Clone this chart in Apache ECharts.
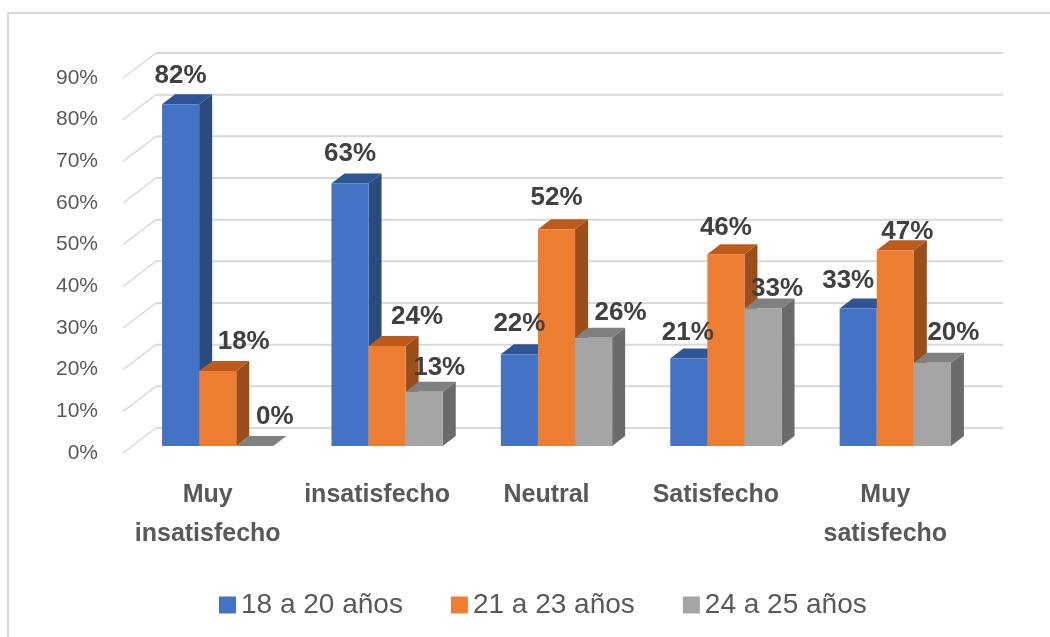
<!DOCTYPE html>
<html>
<head>
<meta charset="utf-8">
<script src="https://cdn.jsdelivr.net/npm/echarts@6/dist/echarts.min.js"></script>
<style>
html,body{margin:0;padding:0;background:#fff}
#main{width:1050px;height:637px}
</style>
</head>
<body>
<div id="main"></div>
<script>
// datos
var categorias = ['Muy\ninsatisfecho', 'insatisfecho', 'Neutral', 'Satisfecho', 'Muy\nsatisfecho'];
var nombres = ['18 a 20 años', '21 a 23 años', '24 a 25 años'];
var edad18a20 = [82, 63, 22, 21, 33];
var edad21a23 = [18, 24, 52, 46, 47];
var edad24a25 = [0, 13, 26, 33, 20];
var yTicks = [0, 10, 20, 30, 40, 50, 60, 70, 80, 90];

// colores de las caras (frente, tapa, lado)
var caras = [
    {front: '#4472C4', top: '#2F5597', side: '#2A4A80'},
    {front: '#ED7D31', top: '#BE5A1C', side: '#9A4E1C'},
    {front: '#A5A5A5', top: '#808080', side: '#6B6B6B'}
];
// pequeños ajustes de las etiquetas (como hace Excel)
var ajusteEtiquetas = [
    [[0, 0], [0, -1], [0, -2], [-1, 3], [-10, 1]],
    [[26, 0], [30, 0], [0, -3], [0, 2], [12, 11]],
    [[20, 0], [15, 5], [27, 4], [14, 9], [21, -1]]
];

var FONDO_X = 33, FONDO_Y = 25;   // profundidad de la pared del fondo
var BARRA_X = 10, BARRA_Y = 7;    // plano frontal de las barras
var PROF_X = 13, PROF_Y = 10;     // profundidad de cada barra
var FONT = '"Liberation Sans", Arial, sans-serif';

var chart = echarts.init(document.getElementById('main'));

function toData(arr) {
    return arr.map(function (v, i) { return [i, v]; });
}

function barras(idx) {
    return function (params, api) {
        var ci = api.value(0), v = api.value(1);
        var top = api.coord([ci, v]);
        var base = api.coord([ci, 0]);
        var cw = api.size([1, 0])[0];
        var bw = cw * 0.219;
        var cx = top[0] + BARRA_X + (idx - 1) * bw;
        var x0 = cx - bw / 2, x1 = cx + bw / 2;
        var yT = top[1] - BARRA_Y, yB = base[1] - BARRA_Y;
        var c = caras[idx];
        var aj = ajusteEtiquetas[idx][ci];
        return {
            type: 'group',
            children: [
                {type: 'polygon', shape: {points: [[x1, yB], [x1 + PROF_X, yB - PROF_Y], [x1 + PROF_X, yT - PROF_Y], [x1, yT]]},
                    style: {fill: c.side}},
                {type: 'polygon', shape: {points: [[x0, yT], [x0 + PROF_X, yT - PROF_Y], [x1 + PROF_X, yT - PROF_Y], [x1, yT]]},
                    style: {fill: c.top}},
                {type: 'rect', shape: {x: x0, y: yT, width: bw, height: yB - yT}, style: {fill: c.front}},
                {type: 'text', z2: 100, x: cx + aj[0], y: yT - 29 + aj[1],
                    style: {text: v + '%', fill: '#404040', font: 'bold 26px ' + FONT, align: 'center', verticalAlign: 'middle'}}
            ]
        };
    };
}

var option = {
    animation: false,
    backgroundColor: '#fff',
    graphic: [{
        type: 'rect', shape: {x: 8, y: 13, width: 1100, height: 700},
        style: {fill: 'none', stroke: '#D9D9D9', lineWidth: 2}, silent: true
    }],
    grid: {left: 123, right: 80, top: 78, bottom: 184},
    legend: {
        left: 214, top: 586,
        itemWidth: 17, itemHeight: 17, itemGap: 48,
        icon: 'rect',
        data: nombres,
        textStyle: {fontFamily: FONT, fontSize: 28, color: '#595959'}
    },
    xAxis: {
        type: 'category',
        data: categorias,
        axisLine: {show: false},
        axisTick: {show: false},
        axisLabel: {interval: 0, margin: 23, fontFamily: FONT, fontSize: 25, fontWeight: 'bold', lineHeight: 39, color: '#595959'}
    },
    yAxis: {
        type: 'value', min: 0, max: 90, interval: 10,
        axisLine: {show: false},
        axisTick: {show: false},
        splitLine: {show: false},
        axisLabel: {margin: 25, padding: [6, 0, 0, 0], fontFamily: FONT, fontSize: 21, color: '#595959', formatter: '{value}%'}
    },
    series: [
        {
            type: 'custom', name: 'fondo', z: 1, silent: true, clip: false,
            data: yTicks.map(function (t) { return [0, t]; }),
            renderItem: function (params, api) {
                var cs = params.coordSys;
                var y = api.coord([0, api.value(1)])[1];
                var ln = {stroke: '#D9D9D9', lineWidth: 2};
                return {
                    type: 'group',
                    children: [
                        {type: 'line', shape: {x1: cs.x, y1: y, x2: cs.x + FONDO_X, y2: y - FONDO_Y}, style: {stroke: '#D9D9D9', lineWidth: 1.5}},
                        {type: 'line', shape: {x1: cs.x + FONDO_X, y1: y - FONDO_Y, x2: cs.x + cs.width + FONDO_X, y2: y - FONDO_Y}, style: ln}
                    ]
                };
            }
        },
        {type: 'custom', name: nombres[0], z: 2, clip: false, itemStyle: {color: caras[0].front}, data: toData(edad18a20), renderItem: barras(0)},
        {type: 'custom', name: nombres[1], z: 2, clip: false, itemStyle: {color: caras[1].front}, data: toData(edad21a23), renderItem: barras(1)},
        {type: 'custom', name: nombres[2], z: 2, clip: false, itemStyle: {color: caras[2].front}, data: toData(edad24a25), renderItem: barras(2)}
    ]
};
chart.setOption(option);
</script>
</body>
</html>
